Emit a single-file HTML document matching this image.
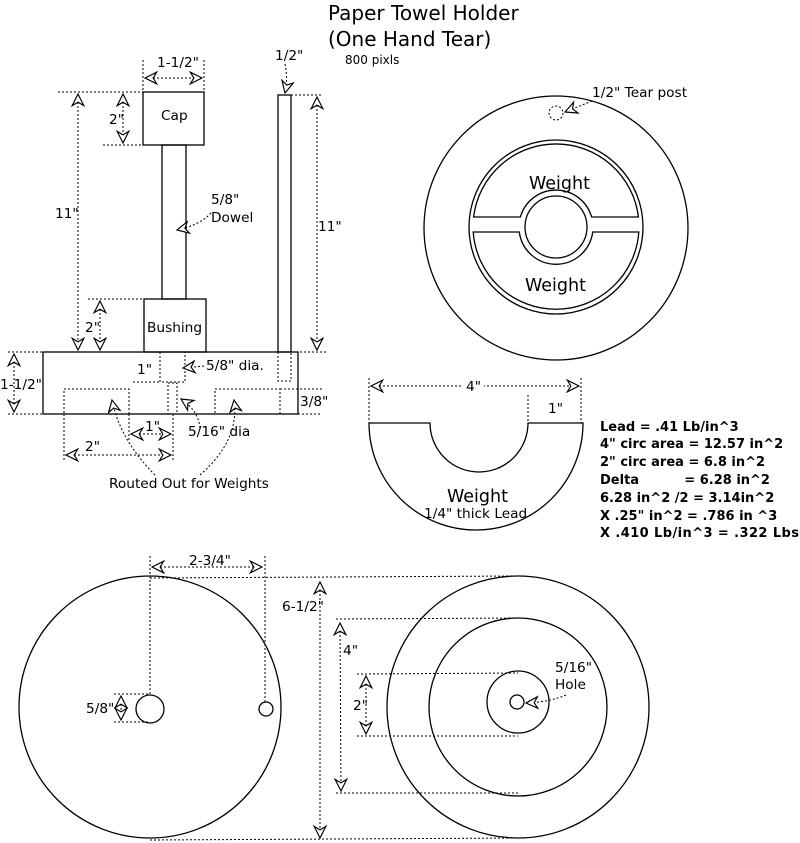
<!DOCTYPE html>
<html><head><meta charset="utf-8"><style>
html,body{margin:0;padding:0;background:#fff}
svg{display:block}
text{font-family:"DejaVu Sans","Liberation Sans",sans-serif;fill:#000}
</style></head><body>
<svg width="800" height="843" viewBox="0 0 800 843" xmlns="http://www.w3.org/2000/svg">
<defs>
<marker id="a" viewBox="0 0 12 12" refX="11" refY="6" markerWidth="14" markerHeight="14" markerUnits="userSpaceOnUse" orient="auto-start-reverse">
<path d="M1,1 L11,6 L1,11 L4,6 Z" fill="#fff" stroke="#000" stroke-width="1"/>
</marker>
</defs>
<rect width="800" height="843" fill="#fff"/>
<g font-size="20"><text x="328" y="20">Paper Towel Holder</text><text x="328" y="46">(One Hand Tear)</text></g>
<text x="345" y="64" font-size="12">800 pixls</text>

<g fill="none" stroke="#000" stroke-width="1.3">
<rect x="143" y="92" width="61" height="53"/>
<rect x="162" y="145" width="24" height="154"/>
<rect x="144" y="299" width="62" height="53"/>
<rect x="43" y="352" width="255" height="62"/>
<rect x="278" y="95" width="13" height="257"/>
</g>
<g fill="none" stroke="#000" stroke-width="1" stroke-dasharray="2,2">
<line x1="143" y1="60" x2="143" y2="92"/><line x1="204" y1="60" x2="204" y2="92"/>
<line x1="58" y1="92" x2="143" y2="92"/><line x1="103" y1="145" x2="143" y2="145"/>
<line x1="88" y1="299" x2="144" y2="299"/>
<line x1="8" y1="352" x2="328" y2="352"/><line x1="8" y1="414" x2="43" y2="414"/>
<line x1="291" y1="95" x2="323" y2="95"/>
<rect x="160" y="352" width="25" height="30"/>
<line x1="133" y1="382" x2="160" y2="382"/>
<polyline points="278,352 278,381 291,381 291,352"/>
<rect x="168" y="383" width="9" height="31"/>
<line x1="173" y1="414" x2="173" y2="461"/>
<rect x="64" y="389" width="65" height="25"/>
<rect x="215" y="389" width="65" height="25"/>
<line x1="280" y1="389" x2="322" y2="389"/><line x1="298" y1="414" x2="322" y2="414"/>
<line x1="129" y1="414" x2="129" y2="440"/><line x1="64" y1="414" x2="64" y2="460"/>
</g>
<g fill="none" stroke="#000" stroke-width="1" stroke-dasharray="2,2" marker-start="url(#a)" marker-end="url(#a)">
<line x1="145" y1="78" x2="202" y2="78"/>
<line x1="123" y1="94" x2="123" y2="143"/>
<line x1="78" y1="94" x2="78" y2="350"/>
<line x1="100" y1="301" x2="100" y2="350"/>
<line x1="14" y1="354" x2="14" y2="412"/>
<line x1="317" y1="97" x2="317" y2="350"/>
<line x1="131" y1="434" x2="171" y2="434"/>
<line x1="66" y1="455" x2="171" y2="455"/>
</g>
<g fill="none" stroke="#000" stroke-width="1" stroke-dasharray="2,2" marker-end="url(#a)">
<path d="M285,64 Q288,80 285,93"/>
<path d="M211,213 Q200,225 177,230"/>
<path d="M204,366 L183,368"/>
<path d="M200,428 Q198,410 181,399"/>
<path d="M155,475 Q120,440 112,400"/>
<path d="M200,475 Q240,440 234,400"/>
</g>
<g font-size="13.7">
<text x="157" y="67">1-1/2"</text>
<text x="109" y="124">2"</text>
<text x="55" y="218">11"</text>
<text x="85" y="332">2"</text>
<text x="0" y="389">1-1/2"</text>
<text x="275" y="60">1/2"</text>
<text x="318" y="231">11"</text>
<text x="161" y="120">Cap</text>
<text x="211" y="204">5/8"</text><text x="211" y="222">Dowel</text>
<text x="147" y="332">Bushing</text>
<text x="137" y="374">1"</text>
<text x="206" y="370">5/8" dia.</text>
<text x="300" y="406">3/8"</text>
<text x="145" y="431">1"</text>
<text x="188" y="436">5/16" dia</text>
<text x="85" y="451">2"</text>
<text x="109" y="488">Routed Out for Weights</text>
</g>

<!-- top right -->
<g fill="none" stroke="#000" stroke-width="1.3">
<circle cx="556" cy="228" r="132"/>
<circle cx="556" cy="227" r="87"/>
<circle cx="556" cy="227" r="31"/>
<path d="M473.6,217 A83,83 0 0 1 638.4,217 L591.6,217 A37,37 0 0 0 520.4,217 Z"/>
<path d="M473.2,232 L519.3,232 A37,37 0 0 0 592.7,232 L638.8,232 A83,83 0 0 1 473.2,232 Z"/>
</g>
<circle cx="556" cy="113" r="7" fill="none" stroke="#000" stroke-dasharray="2,2"/>
<path d="M592,101 L565,112" fill="none" stroke="#000" stroke-dasharray="2,2" marker-end="url(#a)"/>
<text x="592" y="97" font-size="13.7">1/2" Tear post</text>
<text x="529" y="189" font-size="17.5">Weight</text>
<text x="525" y="291" font-size="17.5">Weight</text>

<!-- weight semi -->
<path d="M369,423 L430,423 A48,48 0 0 0 528,423 L583,423 A107,107 0 0 1 369,423" fill="none" stroke="#000" stroke-width="1.3"/>
<g fill="none" stroke="#000" stroke-width="1" stroke-dasharray="2,2">
<line x1="369" y1="378" x2="369" y2="423"/><line x1="581" y1="378" x2="581" y2="423"/>
<line x1="528" y1="395" x2="528" y2="423"/>
<line x1="371" y1="386" x2="579" y2="386" marker-start="url(#a)" marker-end="url(#a)"/>
</g>
<rect x="462" y="378" width="22" height="14" fill="#fff"/>
<text x="466" y="391" font-size="13.7">4"</text>
<text x="548" y="413" font-size="13.7">1"</text>
<text x="447" y="502" font-size="17.5">Weight</text>
<text x="424" y="518" font-size="13.7">1/4" thick Lead</text>

<g font-size="13" font-weight="bold" style="white-space:pre">
<text x="600" y="431">Lead = .41 Lb/in^3</text>
<text x="600" y="448">4" circ area = 12.57 in^2</text>
<text x="600" y="466">2" circ area = 6.8 in^2</text>
<text x="600" y="484" xml:space="preserve">Delta          = 6.28 in^2</text>
<text x="600" y="502">6.28 in^2 /2 = 3.14in^2</text>
<text x="600" y="520">X .25" in^2 = .786 in ^3</text>
<text x="600" y="537" textLength="199">X .410 Lb/in^3 = .322 Lbs</text>
</g>

<!-- bottom -->
<g fill="none" stroke="#000" stroke-width="1.3">
<circle cx="150" cy="707" r="131"/>
<circle cx="150" cy="709" r="14"/>
<circle cx="266" cy="709" r="7"/>
<circle cx="518" cy="707" r="131"/>
<circle cx="518" cy="707" r="89"/>
<circle cx="518" cy="702" r="31"/>
<circle cx="517" cy="702" r="7"/>
</g>
<g fill="none" stroke="#000" stroke-width="1" stroke-dasharray="2,2">
<line x1="150" y1="556" x2="150" y2="695"/><line x1="265" y1="556" x2="265" y2="702"/>
<line x1="150" y1="578" x2="518" y2="576"/>
<line x1="150" y1="840" x2="518" y2="838"/>
<line x1="336" y1="619" x2="518" y2="618"/><line x1="336" y1="793" x2="518" y2="793"/>
<line x1="357" y1="674" x2="518" y2="673"/><line x1="357" y1="736" x2="518" y2="736"/>
<line x1="114" y1="694" x2="150" y2="694"/><line x1="114" y1="722" x2="150" y2="722"/>
</g>
<g fill="none" stroke="#000" stroke-width="1" stroke-dasharray="2,2" marker-start="url(#a)" marker-end="url(#a)">
<line x1="152" y1="567" x2="262" y2="567"/>
<line x1="320" y1="582" x2="320" y2="838"/>
<line x1="340" y1="623" x2="341" y2="791"/>
<line x1="366" y1="676" x2="366" y2="734"/>
<line x1="121" y1="696" x2="121" y2="720"/>
</g>
<path d="M566,695 Q550,702 526,703" fill="none" stroke="#000" stroke-dasharray="2,2" marker-end="url(#a)"/>
<g font-size="13.7">
<text x="189" y="565">2-3/4"</text>
<text x="282" y="611">6-1/2"</text>
<text x="343" y="655">4"</text>
<text x="353" y="710">2"</text>
<text x="86" y="713">5/8"</text>
<text x="555" y="672">5/16"</text>
<text x="555" y="689">Hole</text>
</g>
</svg>
</body></html>
